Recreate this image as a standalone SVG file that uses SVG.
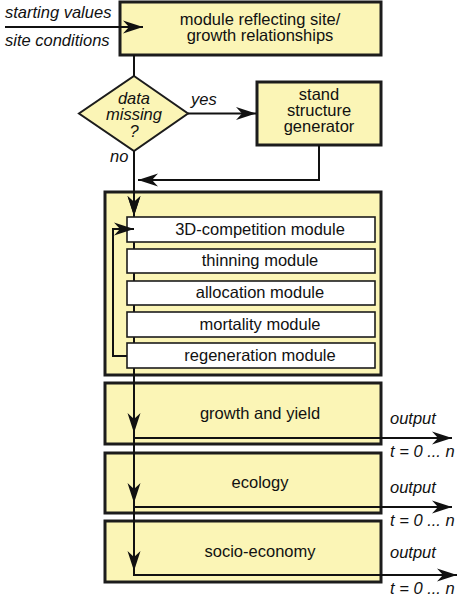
<svg xmlns="http://www.w3.org/2000/svg" width="458" height="600" viewBox="0 0 458 600">
<defs>
<style>
.box{fill:#fbf5b6;stroke:#1c1c1c;stroke-width:3}
.mod{fill:#ffffff;stroke:#1c1c1c;stroke-width:1.6}
.t{font-family:"Liberation Sans",Arial,sans-serif;font-size:16.5px;fill:#111;text-anchor:middle}
.i{font-family:"Liberation Sans",Arial,sans-serif;font-size:16.5px;fill:#111;font-style:italic}
.c{fill:none;stroke:#111;stroke-width:2}
.a{marker-end:url(#ah)}
</style>
<marker id="ah" markerUnits="userSpaceOnUse" markerWidth="22" markerHeight="14" refX="20" refY="7" orient="auto">
<path d="M0,0.5 L20,7 L0,13.5 L6,7 Z" fill="#111"/>
</marker>
</defs>
<rect width="458" height="600" fill="#fff"/>

<g id="site-module">
<rect class="box" x="120" y="2" width="261" height="53"/>
<text class="t" x="260" y="25">module reflecting site/</text>
<text class="t" x="260" y="41">growth relationships</text>
</g>

<g id="data-missing">
<polygon class="box" points="134,76 188,113.5 134,151 79,113.5" style="stroke-width:2"/>
<text class="i" x="134" y="104" text-anchor="middle">data</text>
<text class="i" x="134" y="120" text-anchor="middle">missing</text>
<text class="i" x="134" y="137" text-anchor="middle">?</text>
</g>

<g id="stand-generator">
<rect class="box" x="257" y="82" width="124" height="63"/>
<text class="t" x="319" y="100">stand</text>
<text class="t" x="319" y="116">structure</text>
<text class="t" x="319" y="132">generator</text>
</g>

<g id="process-box">
<rect class="box" x="105" y="192" width="276" height="183"/>
</g>

<g id="growth-yield">
<rect class="box" x="105" y="383" width="276" height="61"/>
<text class="t" x="260" y="419">growth and yield</text>
</g>

<g id="ecology">
<rect class="box" x="105" y="453" width="276" height="60"/>
<text class="t" x="260" y="488">ecology</text>
</g>

<g id="socio-economy">
<rect class="box" x="105" y="521" width="276" height="61"/>
<text class="t" x="260" y="557">socio-economy</text>
</g>

<g id="connectors">
<line class="c a" x1="5" y1="27" x2="143" y2="27"/>
<line class="c" x1="134" y1="55" x2="134" y2="76"/>
<line class="c a" x1="188" y1="113.5" x2="256" y2="113.5"/>
<path class="c a" d="M319,145 V180 H138"/>
<line class="c a" x1="134" y1="151" x2="134" y2="216"/>
<line class="c" x1="134" y1="216" x2="134" y2="368"/>
<line class="c a" x1="134" y1="368" x2="134" y2="433"/>
<line class="c a" x1="134" y1="433" x2="134" y2="503"/>
<line class="c a" x1="134" y1="503" x2="134" y2="571"/>
<line class="c" x1="134" y1="571" x2="134" y2="576"/>
<path class="c a" d="M134,438 H452"/>
<path class="c a" d="M134,507 H452"/>
<path class="c a" d="M134,575 H457"/>
</g>

<g id="module-3d">
<rect class="mod" x="127" y="217" width="248" height="25"/>
<text class="t" x="260" y="234.5">3D-competition module</text>
</g>
<g id="module-thinning">
<rect class="mod" x="127" y="249" width="248" height="24"/>
<text class="t" x="260" y="266">thinning module</text>
</g>
<g id="module-allocation">
<rect class="mod" x="127" y="281" width="248" height="24"/>
<text class="t" x="260" y="298">allocation module</text>
</g>
<g id="module-mortality">
<rect class="mod" x="127" y="312" width="248" height="25"/>
<text class="t" x="260" y="329.5">mortality module</text>
</g>
<g id="module-regeneration">
<rect class="mod" x="127" y="343" width="248" height="25"/>
<text class="t" x="260" y="360.5">regeneration module</text>
</g>

<g id="loop">
<path class="c a" d="M127,356 H113 V229 H134"/>
<line class="c a" x1="134" y1="200" x2="134" y2="216"/>
</g>

<g id="labels">
<text class="i" x="5" y="18">starting values</text>
<text class="i" x="5" y="46">site conditions</text>
<text class="i" x="191" y="105">yes</text>
<text class="i" x="110" y="162">no</text>
<text class="i" x="390" y="424">output</text>
<text class="i" x="390" y="457">t = 0 ... n</text>
<text class="i" x="390" y="493">output</text>
<text class="i" x="390" y="526">t = 0 ... n</text>
<text class="i" x="390" y="558">output</text>
<text class="i" x="390" y="594">t = 0 ... n</text>
</g>
</svg>
